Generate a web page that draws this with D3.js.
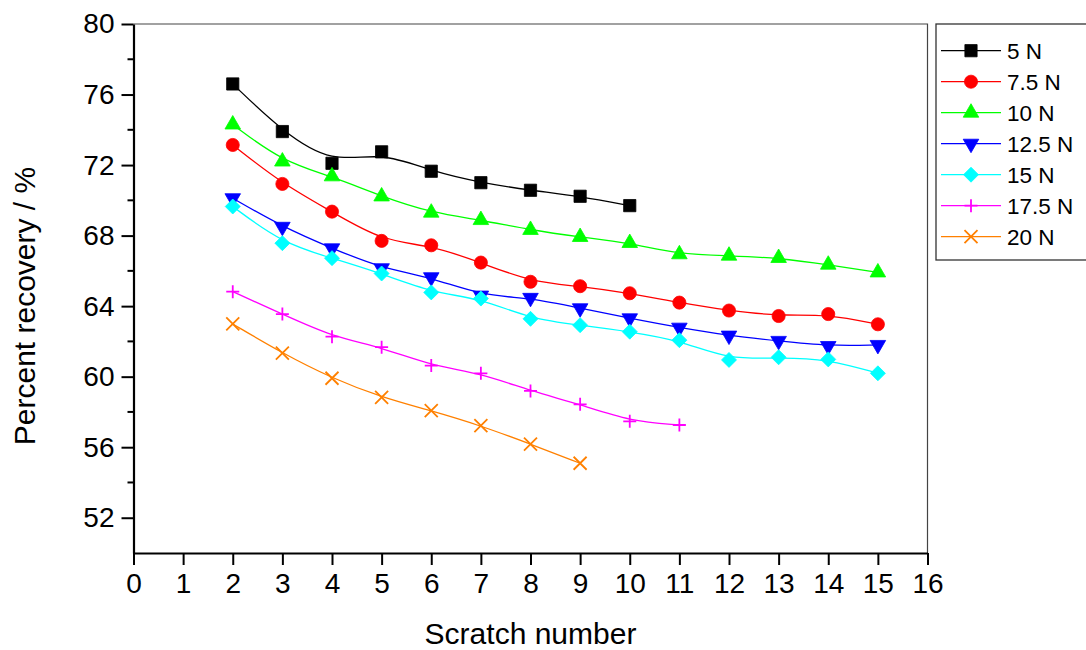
<!DOCTYPE html>
<html lang="en">
<head>
    <meta charset="UTF-8">
    <title>Percent recovery vs scratch number</title>
    <script src="https://d3js.org/d3.v7.min.js"></script>
    <style>
        body {
            margin: 0;
            background: #fff;
            font-family: Arial, "Liberation Sans", sans-serif;
        }
        .tick text {
            font-family: Arial, "Liberation Sans", sans-serif;
        }
    </style>
</head>
<body>
<svg id="chart"></svg>
<script>
    // Data
    const seriesNames = ["5 N", "7.5 N", "10 N", "12.5 N", "15 N", "17.5 N", "20 N"];
    const seriesColors = ["#000000", "#ff0000", "#00ff00", "#0000ff", "#00ffff", "#ff00ff", "#ff8000"];
    const seriesMarkers = ["square", "circle", "triangle", "triangleDown", "diamond", "plus", "cross"];

    const scratchA = [2, 3, 4, 5, 6, 7, 8, 9, 10];
    const scratchB = [2, 3, 4, 5, 6, 7, 8, 9, 10, 11, 12, 13, 14, 15];
    const scratchC = [2, 3, 4, 5, 6, 7, 8, 9, 10, 11];
    const scratchD = [2, 3, 4, 5, 6, 7, 8, 9];

    const rec5 = [76.6, 73.9, 72.1, 72.75, 71.65, 71.0, 70.57, 70.23, 69.7];
    const rec7_5 = [73.14, 70.93, 69.36, 67.7, 67.45, 66.47, 65.38, 65.13, 64.73, 64.2, 63.75, 63.44, 63.55, 62.97];
    const rec10 = [74.3, 72.2, 71.36, 70.22, 69.3, 68.88, 68.32, 67.92, 67.58, 66.94, 66.86, 66.73, 66.35, 65.91];
    const rec12_5 = [70.12, 68.5, 67.28, 66.15, 65.64, 64.6, 64.47, 63.88, 63.31, 62.78, 62.33, 62.03, 61.74, 61.8];
    const rec15 = [69.65, 67.57, 66.72, 65.85, 64.78, 64.43, 63.28, 62.92, 62.55, 62.07, 60.95, 61.1, 60.98, 60.19];
    const rec17_5 = [64.82, 63.55, 62.27, 61.67, 60.63, 60.19, 59.19, 58.43, 57.47, 57.26];
    const rec20 = [62.99, 61.33, 59.91, 58.83, 58.07, 57.22, 56.18, 55.09];

    const seriesX = [scratchA, scratchB, scratchB, scratchB, scratchB, scratchC, scratchD];
    const seriesY = [rec5, rec7_5, rec10, rec12_5, rec15, rec17_5, rec20];

    const xTicks = d3.range(0, 17, 1);
    const yTicks = [52, 56, 60, 64, 68, 72, 76, 80];
    const yMinorTicks = [54, 58, 62, 66, 70, 74, 78];

    // Layout
    const width = 1086;
    const height = 650;
    const plot = { left: 133.5, right: 927.5, top: 24, bottom: 553 };

    const svg = d3.select("#chart")
        .attr("width", width)
        .attr("height", height);

    const x = d3.scaleLinear().domain([0, 16]).range([plot.left, plot.right]);
    const y = d3.scaleLinear().domain([50, 80]).range([plot.bottom, plot.top]);

    // Frame: thin top and right lines
    svg.append("path")
        .attr("d", `M${plot.left},${plot.top}H${plot.right}V${plot.bottom}`)
        .attr("fill", "none")
        .attr("stroke", "#444")
        .attr("stroke-width", 1.2);

    // Axes
    const xAxis = svg.append("g")
        .attr("transform", `translate(0,${plot.bottom})`)
        .call(d3.axisBottom(x).tickValues(xTicks).tickFormat(d3.format("d"))
            .tickSize(12).tickPadding(8).tickSizeOuter(0));
    xAxis.select(".domain").attr("stroke", "#000").attr("stroke-width", 2.2);
    xAxis.selectAll(".tick line").attr("stroke", "#000").attr("stroke-width", 2);
    xAxis.selectAll(".tick text").attr("font-size", 28).attr("fill", "#000");

    const yAxis = svg.append("g")
        .attr("transform", `translate(${plot.left},0)`)
        .call(d3.axisLeft(y).tickValues(yTicks).tickFormat(d3.format("d"))
            .tickSize(12).tickPadding(7).tickSizeOuter(0));
    yAxis.select(".domain").attr("stroke", "#000").attr("stroke-width", 2.2);
    yAxis.selectAll(".tick line").attr("stroke", "#000").attr("stroke-width", 2);
    yAxis.selectAll(".tick text").attr("font-size", 28).attr("fill", "#000");

    // minor ticks on y
    svg.append("g")
        .selectAll("line")
        .data(yMinorTicks)
        .join("line")
        .attr("x1", plot.left - 6)
        .attr("x2", plot.left)
        .attr("y1", d => y(d))
        .attr("y2", d => y(d))
        .attr("stroke", "#000")
        .attr("stroke-width", 2);

    // Axis titles
    svg.append("text")
        .attr("x", (plot.left + plot.right) / 2)
        .attr("y", 644)
        .attr("text-anchor", "middle")
        .attr("font-size", 30)
        .attr("fill", "#000")
        .text("Scratch number");

    svg.append("text")
        .attr("transform", "translate(35,306) rotate(-90)")
        .attr("text-anchor", "middle")
        .attr("font-size", 30)
        .attr("fill", "#000")
        .text("Percent recovery / %");

    // Marker shapes
    function markerPath(type) {
        switch (type) {
            case "square": return d3.symbol(d3.symbolSquare, 150)();
            case "circle": return d3.symbol(d3.symbolCircle, 135)();
            case "triangle": return d3.symbol(d3.symbolTriangle, 105)();
            case "triangleDown": return d3.symbol(d3.symbolTriangle, 105)();
            case "diamond": return "M0,-7.5L7.5,0L0,7.5L-7.5,0Z";
            case "plus": return "M-6.5,0H6.5M0,-6.5V6.5";
            case "cross": return "M-6.5,-6.5L6.5,6.5M-6.5,6.5L6.5,-6.5";
        }
    }
    function drawMarker(sel, type, color) {
        const isStroke = type === "plus" || type === "cross";
        sel.append("path")
            .attr("d", markerPath(type))
            .attr("transform", type === "triangleDown" ? "rotate(180)" : null)
            .attr("fill", isStroke ? "none" : color)
            .attr("stroke", color)
            .attr("stroke-width", isStroke ? 1.8 : 0.8);
    }

    // B-spline connection (does not pass exactly through the points)
    const line = d3.line()
        .x(d => x(d[0]))
        .y(d => y(d[1]))
        .curve(d3.curveBasis);

    // Series
    seriesNames.forEach((name, i) => {
        const pts = seriesX[i].map((v, j) => [v, seriesY[i][j]]);
        const g = svg.append("g");
        g.append("path")
            .datum(pts)
            .attr("d", line)
            .attr("fill", "none")
            .attr("stroke", seriesColors[i])
            .attr("stroke-width", 1.3);
        g.selectAll("g.pt")
            .data(pts)
            .join("g")
            .attr("class", "pt")
            .attr("transform", d => `translate(${x(d[0])},${y(d[1])})`)
            .each(function () {
                drawMarker(d3.select(this), seriesMarkers[i], seriesColors[i]);
            });
    });

    // Legend
    const legend = svg.append("g");
    legend.append("rect")
        .attr("x", 936)
        .attr("y", 24)
        .attr("width", 160)
        .attr("height", 236)
        .attr("fill", "#fff")
        .attr("stroke", "#333")
        .attr("stroke-width", 1.3);

    seriesNames.forEach((name, i) => {
        const ly = 50.7 + i * 31;
        const row = legend.append("g");
        row.append("line")
            .attr("x1", 941).attr("x2", 1001)
            .attr("y1", ly).attr("y2", ly)
            .attr("stroke", seriesColors[i])
            .attr("stroke-width", 1.3);
        const m = row.append("g").attr("transform", `translate(971,${ly})`);
        drawMarker(m, seriesMarkers[i], seriesColors[i]);
        row.append("text")
            .attr("x", 1007)
            .attr("y", ly + 8)
            .attr("font-size", 22.5)
            .attr("fill", "#000")
            .text(name);
    });
</script>
</body>
</html>
